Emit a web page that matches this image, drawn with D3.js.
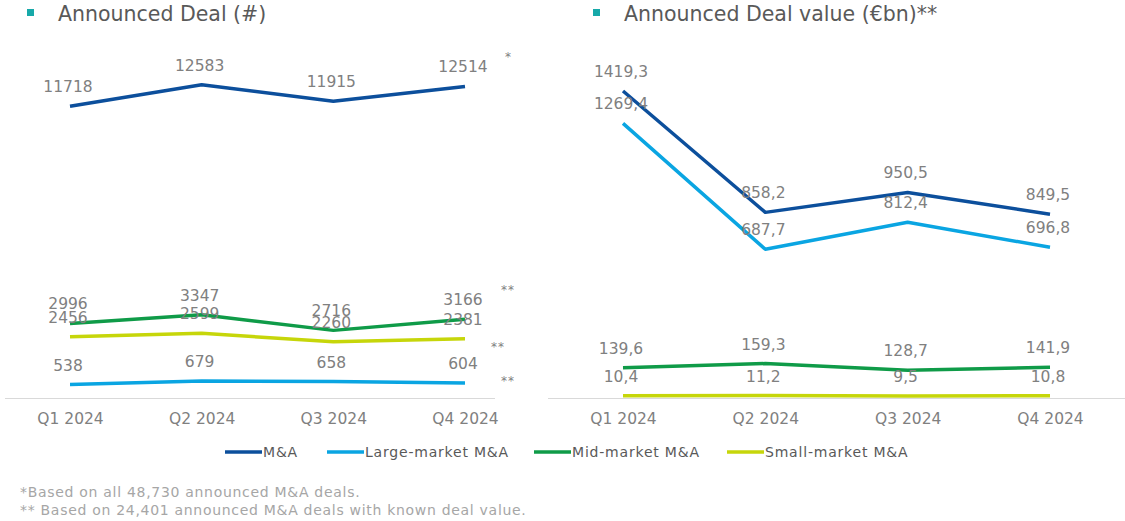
<!DOCTYPE html>
<html>
<head>
<meta charset="utf-8">
<script src="https://cdn.jsdelivr.net/npm/d3@7"></script>
<style>
  body { margin: 0; background: #fff; }
  svg { display: block; font-family: "DejaVu Sans", Verdana, sans-serif; }
</style>
</head>
<body>
<div id="container"></div>
<script>
// ---------------- DATA ----------------
const quarters = ["Q1 2024", "Q2 2024", "Q3 2024", "Q4 2024"];
const seriesNames = ["M&A", "Large-market M&A", "Mid-market M&A", "Small-market M&A"];
const seriesColors = ["#0c4f9c", "#0aa5e2", "#0f9b48", "#c6d60a"];

// announced deals (#)
const dealCountMA = [11718, 12583, 11915, 12514];
const dealCountLarge = [538, 679, 658, 604];
const dealCountMid = [2996, 3347, 2716, 3166];
const dealCountSmall = [2456, 2599, 2260, 2381];
const dealCountNotes = ["*", "**", "**", "**"];

// announced deal value (€bn)
const dealValueMA = [1419.3, 858.2, 950.5, 849.5];
const dealValueLarge = [1269.4, 687.7, 812.4, 696.8];
const dealValueMid = [139.6, 159.3, 128.7, 141.9];
const dealValueSmall = [10.4, 11.2, 9.5, 10.8];

const footnotes = [
  "*Based on all 48,730 announced M&A deals.",
  "** Based on 24,401 announced M&A deals with known deal value."
];

// ---------------- SETUP ----------------
const width = 1125, height = 521;
const svg = d3.select("#container").append("svg")
  .attr("width", width)
  .attr("height", height);

const labelGrey = "#808080";
const titleGrey = "#595959";
const commaLocale = d3.formatLocale({decimal: ",", thousands: ".", grouping: [3], currency: ["", "€"]});
const fmtInt = d3.format("d");
const fmtDec = commaLocale.format(".1f");

function drawPanel(opts) {
  const x = d3.scalePoint().domain(quarters).range(opts.xRange);
  const y = d3.scaleLinear().domain(opts.yDomain).range(opts.yRange);
  const g = svg.append("g");

  // title with square marker
  g.append("rect")
    .attr("x", opts.titleX - 31).attr("y", 9)
    .attr("width", 7).attr("height", 7)
    .attr("fill", "#17a9a9");
  g.append("text")
    .attr("x", opts.titleX).attr("y", 21)
    .attr("fill", titleGrey)
    .style("font-size", "20.5px")
    .text(opts.title);

  // baseline
  g.append("line")
    .attr("x1", opts.baseX[0]).attr("x2", opts.baseX[1])
    .attr("y1", y(0) + 0.5).attr("y2", y(0) + 0.5)
    .attr("stroke", "#d9d9d9");

  // category axis labels
  const xaxis = d3.axisBottom(x).tickSize(0).tickPadding(15);
  const ax = g.append("g")
    .attr("transform", "translate(0," + y(0) + ")")
    .call(xaxis);
  ax.select(".domain").remove();
  ax.selectAll("text")
    .attr("fill", labelGrey)
    .style("font-size", "15.5px")
    .style("font-family", "DejaVu Sans, Verdana, sans-serif");

  const line = d3.line()
    .x(function (d, i) { return x(quarters[i]); })
    .y(function (d) { return y(d); });

  // draw bottom series first so the top series sit above
  const order = [3, 2, 1, 0];
  order.forEach(function (k) {
    g.append("path")
      .datum(opts.series[k])
      .attr("fill", "none")
      .attr("stroke", seriesColors[k])
      .attr("stroke-width", 3.5)
      .attr("stroke-linejoin", "round")
      .attr("d", line);
  });

  order.forEach(function (k) {
    g.selectAll(null)
      .data(opts.series[k])
      .enter()
      .append("text")
      .attr("x", function (d, i) { return x(quarters[i]) - 2; })
      .attr("y", function (d) { return y(d) - 14; })
      .attr("text-anchor", "middle")
      .attr("fill", labelGrey)
      .style("font-size", "15.5px")
      .text(function (d) { return opts.fmt(d); });
  });

  if (opts.notes) {
    const last = quarters[quarters.length - 1];
    // per series: M&A, Large, Mid, Small
    const noteShift = [[40, -25], [36, 2], [36, -25], [26, 12]];
    opts.notes.forEach(function (n, k) {
      const v = opts.series[k][opts.series[k].length - 1];
      g.append("text")
        .attr("x", x(last) + noteShift[k][0])
        .attr("y", y(v) + noteShift[k][1])
        .attr("fill", labelGrey)
        .style("font-size", "12px")
        .style("letter-spacing", "1px")
        .text(n);
    });
  }
}

drawPanel({
  title: "Announced Deal (#)",
  titleX: 58,
  xRange: [70, 465],
  baseX: [5, 495],
  yDomain: [0, 14000],
  yRange: [398, 398 - 14000 * 0.0249],
  series: [dealCountMA, dealCountLarge, dealCountMid, dealCountSmall],
  fmt: fmtInt,
  notes: dealCountNotes
});

drawPanel({
  title: "Announced Deal value (€bn)**",
  titleX: 624,
  xRange: [623, 1050],
  baseX: [548, 1125],
  yDomain: [0, 1600],
  yRange: [398, 398 - 1600 * 0.2163],
  series: [dealValueMA, dealValueLarge, dealValueMid, dealValueSmall],
  fmt: fmtDec
});

// ---------------- LEGEND ----------------
const legendX = [225, 327, 534, 727];
const legend = svg.append("g");
seriesNames.forEach(function (name, k) {
  legend.append("line")
    .attr("x1", legendX[k]).attr("x2", legendX[k] + 37)
    .attr("y1", 452).attr("y2", 452)
    .attr("stroke", seriesColors[k])
    .attr("stroke-width", 3.5);
  legend.append("text")
    .attr("x", legendX[k] + 38).attr("y", 457)
    .attr("fill", titleGrey)
    .style("font-size", "14px")
    .style("letter-spacing", "0.8px")
    .text(name);
});

// ---------------- FOOTNOTES ----------------
svg.selectAll(".foot")
  .data(footnotes)
  .enter()
  .append("text")
  .attr("class", "foot")
  .attr("x", 20)
  .attr("y", function (d, i) { return 497 + i * 18; })
  .attr("fill", "#a6a6a6")
  .style("font-size", "14px")
  .style("letter-spacing", "0.7px")
  .text(function (d) { return d; });
</script>
</body>
</html>
